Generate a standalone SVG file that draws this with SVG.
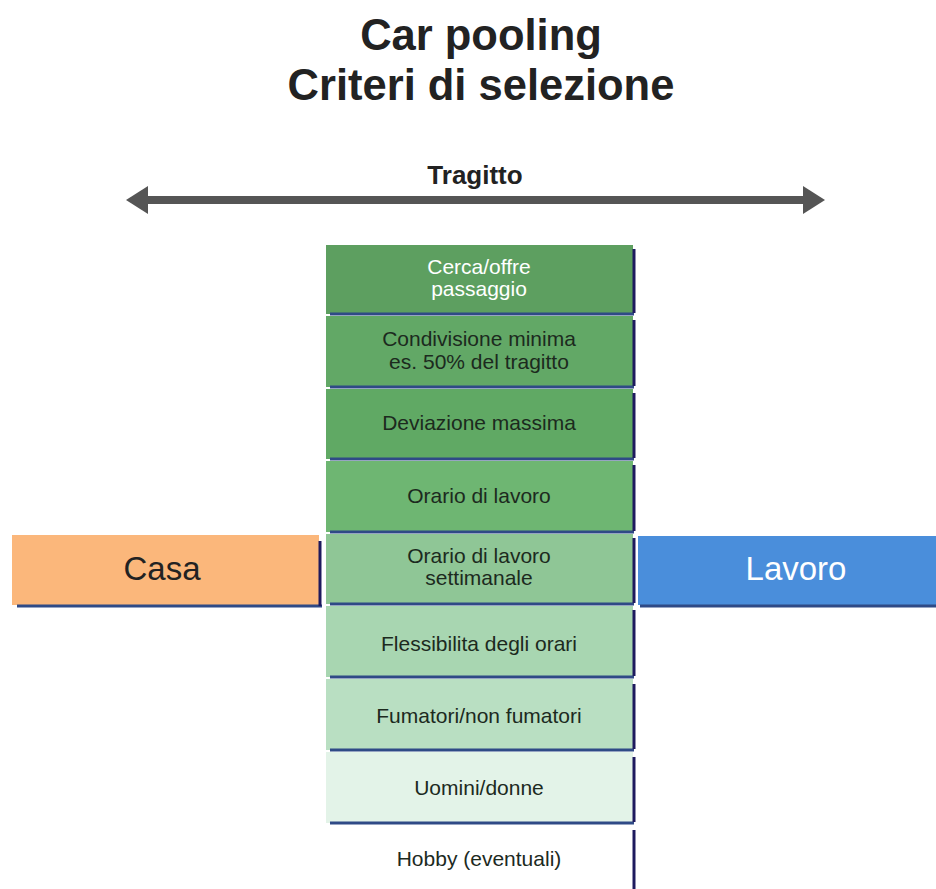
<svg xmlns="http://www.w3.org/2000/svg" width="936" height="889" viewBox="0 0 936 889">
<style>
.t{font-family:"Liberation Sans",Arial,sans-serif;text-anchor:middle}
.title{font-size:43.5px;font-weight:bold;fill:#222}
.row{font-size:21px;fill:#1c2a1e}
.bl{stroke:#2f4a86;stroke-width:3}
.rl{stroke:#1e1a5e;stroke-width:3}
</style>
<rect width="936" height="889" fill="#fff"/>
<text class="t title" x="481" y="50">Car pooling</text>
<text class="t title" x="481" y="100">Criteri di selezione</text>
<g id="tragitto">
<text class="t" x="475" y="184" font-size="26" font-weight="bold" fill="#222">Tragitto</text>
<line x1="140" y1="200" x2="810" y2="200" stroke="#555" stroke-width="8"/>
<polygon points="126,200 148,186 148,214" fill="#555"/>
<polygon points="825,200 803,186 803,214" fill="#555"/>
</g>
<g id="casa">
<rect x="12" y="535" width="307" height="70" fill="#fbb77b"/>
<line class="bl" x1="17" y1="606" x2="322" y2="606"/>
<line class="rl" x1="320" y1="541" x2="320" y2="606"/>
<text class="t" x="162" y="580" font-size="33" fill="#222">Casa</text>
</g>
<g id="lavoro">
<rect x="638" y="536" width="298" height="69" fill="#4a8edb"/>
<line class="bl" x1="640" y1="606" x2="936" y2="606"/>
<text class="t" x="796" y="580" font-size="33" fill="#fff">Lavoro</text>
</g>
<g id="row1">
<rect x="326" y="245" width="307" height="69" fill="#5d9f60"/>
<line class="bl" x1="330" y1="314" x2="634" y2="314"/>
<line class="rl" x1="634" y1="249" x2="634" y2="313"/>
<text class="t row" x="479" y="274" style="fill:#fff">Cerca/offre</text>
<text class="t row" x="479" y="296" style="fill:#fff">passaggio</text>
</g>
<g id="row2">
<rect x="326" y="316" width="307" height="71" fill="#62a866"/>
<line class="bl" x1="330" y1="387" x2="634" y2="387"/>
<line class="rl" x1="634" y1="320" x2="634" y2="386"/>
<text class="t row" x="479" y="346">Condivisione minima</text>
<text class="t row" x="479" y="369">es. 50% del tragitto</text>
</g>
<g id="row3">
<rect x="326" y="389" width="307" height="70" fill="#60a964"/>
<line class="bl" x1="330" y1="459" x2="634" y2="459"/>
<line class="rl" x1="634" y1="393" x2="634" y2="458"/>
<text class="t row" x="479" y="430">Deviazione massima</text>
</g>
<g id="row4">
<rect x="326" y="461" width="307" height="71" fill="#6eb672"/>
<line class="bl" x1="330" y1="532" x2="634" y2="532"/>
<line class="rl" x1="634" y1="465" x2="634" y2="531"/>
<text class="t row" x="479" y="503">Orario di lavoro</text>
</g>
<g id="row5">
<rect x="326" y="534" width="307" height="70" fill="#8fc696"/>
<line class="bl" x1="330" y1="604" x2="634" y2="604"/>
<line class="rl" x1="634" y1="538" x2="634" y2="603"/>
<text class="t row" x="479" y="563">Orario di lavoro</text>
<text class="t row" x="479" y="585">settimanale</text>
</g>
<g id="row6">
<rect x="326" y="606" width="307" height="71" fill="#a8d6b1"/>
<line class="bl" x1="330" y1="677" x2="634" y2="677"/>
<line class="rl" x1="634" y1="610" x2="634" y2="676"/>
<text class="t row" x="479" y="651">Flessibilita degli orari</text>
</g>
<g id="row7">
<rect x="326" y="679" width="307" height="71" fill="#b9dfc2"/>
<line class="bl" x1="330" y1="750" x2="634" y2="750"/>
<line class="rl" x1="634" y1="684" x2="634" y2="749"/>
<text class="t row" x="479" y="723">Fumatori/non fumatori</text>
</g>
<g id="row8">
<rect x="326" y="752" width="307" height="71" fill="#e3f3e8"/>
<line class="bl" x1="330" y1="823" x2="634" y2="823"/>
<line class="rl" x1="634" y1="757" x2="634" y2="822"/>
<text class="t row" x="479" y="795">Uomini/donne</text>
</g>
<g id="row9">
<line class="rl" x1="634" y1="830" x2="634" y2="889"/>
<text class="t row" x="479" y="866">Hobby (eventuali)</text>
</g>
</svg>
